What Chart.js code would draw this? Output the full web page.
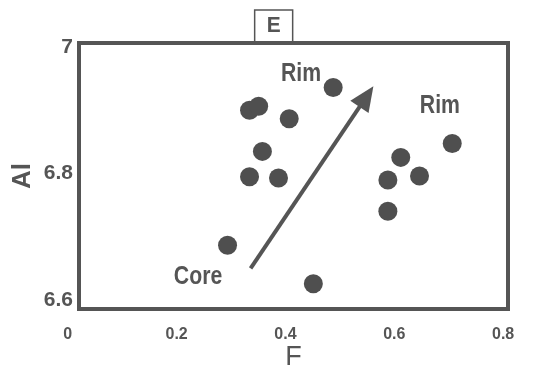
<!DOCTYPE html>
<html>
<head>
<meta charset="utf-8">
<script src="https://cdn.jsdelivr.net/npm/chart.js@4/dist/chart.umd.min.js"></script>
<style>
    html, body { margin: 0; padding: 0; background: #fff; }
</style>
</head>
<body>
<canvas id="chart" width="533" height="371"></canvas>
<script>
// Spot analyses: F (x) and Al (y)
const fValues  = [0.474, 0.318, 0.335, 0.392, 0.342, 0.318, 0.372, 0.277, 0.437, 0.696, 0.600, 0.635, 0.576, 0.576];
const alValues = [6.933, 6.899, 6.905, 6.886, 6.837, 6.799, 6.797, 6.696, 6.638, 6.849, 6.828, 6.800, 6.794, 6.747];

// Tick labels
const xTicks = [0, 0.2, 0.4, 0.6, 0.8];
const yTicks = [6.6, 6.8, 7];

// Text notes inside the plot (data coords)
const noteTexts = ['Rim', 'Rim', 'Core'];
const noteF     = [0.414, 0.673, 0.222];
const noteAl    = [6.953, 6.905, 6.648];

// Core -> rim arrow (tail, tip)
const arrowF  = [0.320, 0.549];
const arrowAl = [6.661, 6.935];

const panelLetter = 'E';
const panelF = 0.363;

const ink = '#555555';
const fontFamily = "'Liberation Sans', Arial, sans-serif";

// Draw condensed text
function drawText(ctx, text, x, y, size, sx) {
    ctx.save();
    ctx.translate(x, y);
    ctx.scale(sx, 1);
    ctx.font = `bold ${size}px ${fontFamily}`;
    ctx.textAlign = 'center';
    ctx.textBaseline = 'middle';
    ctx.fillStyle = ink;
    ctx.fillText(text, 0, 0);
    ctx.restore();
}

// Frame, arrow, notes and panel letter
const decorPlugin = {
    id: 'decor',
    afterDatasetsDraw(chart) {
        const ctx = chart.ctx;
        const area = chart.chartArea;
        const xs = chart.scales.x;
        const ys = chart.scales.y;

        // frame
        ctx.save();
        ctx.strokeStyle = ink;
        ctx.lineWidth = 4;
        ctx.strokeRect(area.left, area.top, area.right - area.left, area.bottom - area.top);

        // panel letter box
        const px = xs.getPixelForValue(panelF);
        ctx.lineWidth = 1.5;
        ctx.beginPath();
        ctx.moveTo(px - 19, area.top - 2);
        ctx.lineTo(px - 19, 10);
        ctx.lineTo(px + 19, 10);
        ctx.lineTo(px + 19, area.top - 2);
        ctx.stroke();
        drawText(ctx, panelLetter, px, 26, 22, 0.95);

        // arrow
        const x0 = xs.getPixelForValue(arrowF[0]);
        const y0 = ys.getPixelForValue(arrowAl[0]);
        const x1 = xs.getPixelForValue(arrowF[1]);
        const y1 = ys.getPixelForValue(arrowAl[1]);
        const ang = Math.atan2(y1 - y0, x1 - x0);
        const headLen = 25;
        const headHalf = 11;
        const bx = x1 - headLen * Math.cos(ang);
        const by = y1 - headLen * Math.sin(ang);
        ctx.lineWidth = 4;
        ctx.beginPath();
        ctx.moveTo(x0, y0);
        ctx.lineTo(bx + 2 * Math.cos(ang), by + 2 * Math.sin(ang));
        ctx.stroke();
        ctx.fillStyle = ink;
        ctx.beginPath();
        ctx.moveTo(x1, y1);
        ctx.lineTo(bx - headHalf * Math.sin(ang), by + headHalf * Math.cos(ang));
        ctx.lineTo(bx + headHalf * Math.sin(ang), by - headHalf * Math.cos(ang));
        ctx.closePath();
        ctx.fill();
        ctx.restore();

        // notes
        noteTexts.forEach((t, i) => {
            drawText(ctx, t, xs.getPixelForValue(noteF[i]), ys.getPixelForValue(noteAl[i]), 25, 0.85);
        });
    }
};

new Chart(document.getElementById('chart'), {
    type: 'scatter',
    data: {
        datasets: [{
            data: fValues.map((f, i) => ({ x: f, y: alValues[i] })),
            xAxisID: 'x',
            yAxisID: 'y',
            pointRadius: 9.5,
            pointHoverRadius: 9.5,
            backgroundColor: '#4f4f4f',
            borderWidth: 0
        }]
    },
    options: {
        responsive: false,
        animation: false,
        layout: { padding: { top: 43, right: 25, left: 0, bottom: 0 } },
        plugins: {
            legend: { display: false },
            tooltip: { enabled: false }
        },
        scales: {
            x: { type: 'linear', min: 0, max: 0.8, display: false },
            y: { type: 'linear', min: 6.6, max: 7, display: false },
            // label-only axes, slightly offset like the printed figure
            xt: {
                type: 'linear',
                axis: 'x',
                position: 'bottom',
                min: 0.0206,
                max: 0.809,
                afterBuildTicks: s => { s.ticks = xTicks.map(v => ({ value: v })); },
                afterFit: s => { s.height = 62; },
                grid: { display: false, drawTicks: false },
                border: { display: false },
                ticks: {
                    autoSkip: false,
                    maxRotation: 0,
                    padding: 16,
                    color: ink,
                    font: { family: fontFamily, size: 16, weight: 'bold' },
                    callback: v => String(v)
                },
                title: {
                    display: true,
                    text: 'F',
                    color: ink,
                    padding: { top: 0, bottom: 0 },
                    font: { family: fontFamily, size: 27, lineHeight: 1 }
                }
            },
            yt: {
                type: 'linear',
                axis: 'y',
                position: 'left',
                min: 6.5857,
                max: 7.0063,
                afterBuildTicks: s => { s.ticks = yTicks.map(v => ({ value: v })); },
                afterFit: s => { s.width = 79; },
                grid: { display: false, drawTicks: false },
                border: { display: false },
                ticks: {
                    autoSkip: false,
                    padding: 6,
                    color: ink,
                    font: { family: fontFamily, size: 21, weight: 'bold' },
                    callback: v => String(v)
                },
                title: {
                    display: true,
                    text: 'Al',
                    color: ink,
                    padding: { top: 10, bottom: 0 },
                    font: { family: fontFamily, size: 26, weight: 'bold', lineHeight: 1 }
                }
            }
        }
    },
    plugins: [decorPlugin]
});
</script>
</body>
</html>
